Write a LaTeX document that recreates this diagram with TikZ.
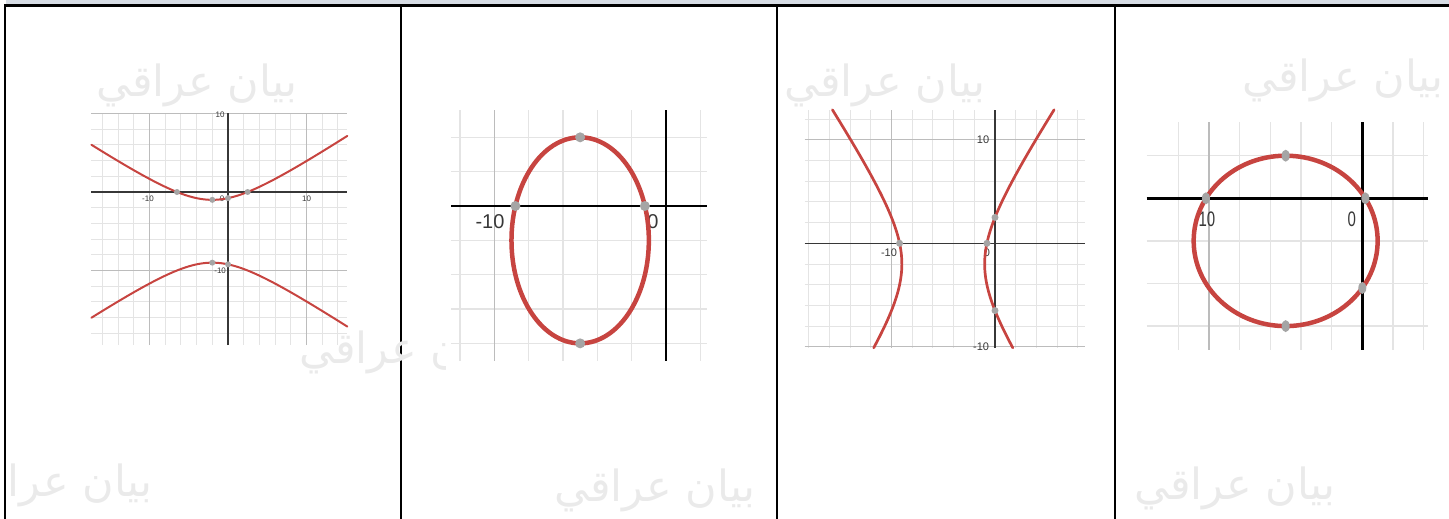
\documentclass[tikz,border=0pt]{standalone}
\usepackage{fontspec}
\setmainfont{Liberation Sans}
\newfontfamily\arabicfont[Script=Arabic]{DejaVu Sans}
\TeXXeTstate=1
\usetikzlibrary{shapes.geometric}
\definecolor{desmosred}{RGB}{199,68,64}
\definecolor{desmosdot}{RGB}{165,165,165}
\definecolor{gridminor}{RGB}{228,228,228}
\definecolor{gridmajor}{RGB}{188,188,188}
\definecolor{axisgray}{RGB}{55,55,55}
\definecolor{bandgray}{RGB}{214,220,228}
\definecolor{wmgray}{RGB}{234,234,234}
\tikzset{
  dcurve/.style ={draw=desmosred, line join=round, line cap=round},
  dgrid/.style  ={gridminor, line width=1pt},
  dmajor/.style ={gridmajor, line width=1pt},
  daxis/.style  ={axisgray, line width=1.2pt},
  dpoint/.style ={circle, fill=desmosdot, inner sep=0pt, minimum size=6pt},
  dlabel/.style ={text=axisgray, inner sep=0pt, font=\fontsize{8}{8}\selectfont},
  wmark/.style  ={text=wmgray, inner sep=0pt, font=\arabicfont\fontsize{43}{43}\selectfont},
  cellline/.style={black, line width=2pt},
}
\newcommand{\wmtext}{\beginR بيان عراقي\endR}

\begin{document}
\begin{tikzpicture}[x=1pt, y=-1pt]
  \useasboundingbox (0,0) rectangle (1449,519);
  % table frame
  \fill[bandgray] (6,0) rectangle (1449,4.5);
  \draw[black, line width=3pt] (4,5.8) -- (1449,5.8);
  \foreach \cx in {5,401,777,1115} \draw[cellline] (\cx,5) -- (\cx,519);

  % watermarks
  \node[wmark] (wm1) at (197,85) {\wmtext};
  \node[wmark] (wm4) at (655,490) {\wmtext};
  \node[wmark] (wm5) at (885,85) {\wmtext};
  \node[wmark] (wm6) at (1343,80) {\wmtext};
  \node[wmark] (wm7) at (1235,488) {\wmtext};
  \begin{scope}
    \clip (295,320) rectangle (445,385);
    \node[wmark] (wm2) at (400,352) {\wmtext};
  \end{scope}
  \begin{scope}
    \clip (7,450) rectangle (200,519);
    \node[wmark] (wm3) at (52,485) {\wmtext};
  \end{scope}

  % graph 1: hyperbola, vertical
  \begin{scope}[shift={(228,192)}, xscale=7.85, yscale=-7.85]
    \foreach \gx in {-16,-14,...,14} \draw[dgrid] (\gx,-19.5) -- (\gx,10.06);
    \foreach \gy in {-18,-16,...,10} \draw[dgrid] (-17.4,\gy) -- (15.2,\gy);
    \draw[dmajor] (-10,-19.5) -- (-10,10.06) (10,-19.5) -- (10,10.06)
                  (-17.4,10) -- (15.2,10) (-17.4,-10) -- (15.2,-10);
    \draw[daxis] (-17.4,0) -- (15.2,0) (0,-19.5) -- (0,10.06);
    \node[dlabel] (g1xm) at (-10.2,-0.9) {-10};
    \node[dlabel] (g1xp) at (10,-0.9) {10};
    \node[dlabel] (g1o)  at (-0.75,-0.9) {0};
    \node[dlabel] (g1yp) at (-1.0,9.9) {10};
    \node[dlabel] (g1ym) at (-1.0,-10) {-10};
    \draw[dcurve, line width=2pt] plot[domain=-17.4:15.2, samples=90]
      (\x, {-5+4*sqrt(1+((\x+2)/6)^2)});
    \draw[dcurve, line width=2pt] plot[domain=-17.4:15.2, samples=90]
      (\x, {-5-4*sqrt(1+((\x+2)/6)^2)});
    \node[dpoint] (g1a) at (-6.5,0) {};
    \node[dpoint] (g1b) at (2.5,0) {};
    \node[dpoint] (g1c) at (-2,-1) {};
    \node[dpoint] (g1d) at (0,-0.78) {};
    \node[dpoint] (g1e) at (-2,-9) {};
    \node[dpoint] (g1f) at (0,-9.22) {};
  \end{scope}

  % graph 2: ellipse, tall
  \begin{scope}[shift={(666,206)}, xscale=17.17, yscale=-17.17]
    \foreach \gx in {-12,-10,...,2} \draw[dgrid, line width=1.5pt] (\gx,-9) -- (\gx,5.6);
    \foreach \gy in {-8,-6,...,4} \draw[dgrid, line width=1.5pt] (-12.5,\gy) -- (2.4,\gy);
    \draw[dmajor, line width=1.5pt] (-10,-9) -- (-10,5.6);
    \draw[daxis, black, line width=2pt] (-12.5,0) -- (2.4,0) (0,-9) -- (0,5.6);
    \node[dlabel, font=\fontsize{20}{20}\selectfont] (g2xm) at (-10.25,-0.93) {-10};
    \node[dlabel, font=\fontsize{20}{20}\selectfont] (g2o)  at (-0.76,-0.93) {0};
    \draw[dcurve, line width=4.5pt] (-5,-2) ellipse [x radius=4, y radius=6];
    \node[dpoint, minimum size=10pt] (g2a) at (-8.77,0) {};
    \node[dpoint, minimum size=10pt] (g2b) at (-1.23,0) {};
    \node[dpoint, minimum size=10pt] (g2c) at (-5,4) {};
    \node[dpoint, minimum size=10pt] (g2d) at (-5,-8) {};
  \end{scope}

  % graph 3: hyperbola, horizontal
  \begin{scope}[shift={(995,243.3)}, xscale=10.35, yscale=-10.35]
    \foreach \gx in {-18,-16,...,8} \draw[dgrid] (\gx,-10.1) -- (\gx,12.9);
    \foreach \gy in {-10,-8,...,12} \draw[dgrid] (-18.4,\gy) -- (8.7,\gy);
    \draw[dmajor] (-10,-10.1) -- (-10,12.9)
                  (-18.4,10) -- (8.7,10) (-18.4,-10) -- (8.7,-10);
    \draw[daxis] (-18.4,0) -- (8.7,0) (0,-10.1) -- (0,12.9);
    \node[dlabel, font=\fontsize{11}{11}\selectfont] (g3yp) at (-1.16,10) {10};
    \node[dlabel, font=\fontsize{11}{11}\selectfont] (g3ym) at (-1.35,-10) {-10};
    \node[dlabel, font=\fontsize{11}{11}\selectfont] (g3xm) at (-10.24,-0.94) {-10};
    \node[dlabel, font=\fontsize{11}{11}\selectfont] (g3o)  at (-0.77,-0.94) {0};
    \draw[dcurve, line width=2.7pt] plot[domain=-10.1:12.9, samples=90]
      ({-5-4*sqrt(1+((\x+2)/6)^2)}, \x);
    \draw[dcurve, line width=2.7pt] plot[domain=-10.1:12.9, samples=90]
      ({-5+4*sqrt(1+((\x+2)/6)^2)}, \x);
    \node[dpoint, minimum size=7pt] (g3a) at (-9.22,0) {};
    \node[dpoint, minimum size=7pt] (g3b) at (-0.78,0) {};
    \node[dpoint, minimum size=7pt] (g3c) at (0,2.5) {};
    \node[dpoint, minimum size=7pt] (g3d) at (0,-6.5) {};
  \end{scope}

  % graph 4: ellipse, wide (stretched view)
  \begin{scope}[shift={(1362.3,198.3)}, xscale=15.33, yscale=-21.3,
     dpt4/.style={ellipse, fill=desmosdot, inner sep=0pt, minimum width=8pt, minimum height=12pt}]
    \foreach \gx in {-12,-10,...,4} \draw[dgrid, line width=1.5pt] (\gx,-7.12) -- (\gx,3.6);
    \foreach \gy in {-6,-4,...,2} \draw[dgrid, line width=1.5pt] (-14.07,\gy) -- (4.29,\gy);
    \draw[dmajor, line width=1.5pt] (-10,-7.12) -- (-10,3.6);
    \draw[daxis, black, line width=2.5pt] (-14.07,0) -- (4.29,0) (0,-7.12) -- (0,3.6);
    \node[dlabel, font=\fontsize{15}{15}\selectfont] (g4xm) at (-10.3,-1.0) {\scalebox{1}[1.4]{-10}};
    \node[dlabel, font=\fontsize{15}{15}\selectfont] (g4o)  at (-0.69,-1.0) {\scalebox{1}[1.4]{0}};
    \draw[dcurve, line width=4.5pt] (-5,-2) ellipse [x radius=6, y radius=4];
    \node[dpt4] (g4a) at (-10.2,0) {};
    \node[dpt4] (g4b) at (0.2,0) {};
    \node[dpt4] (g4c) at (-5,2) {};
    \node[dpt4] (g4d) at (-5,-6) {};
    \node[dpt4] (g4e) at (0,-4.21) {};
  \end{scope}
\end{tikzpicture}
\end{document}
